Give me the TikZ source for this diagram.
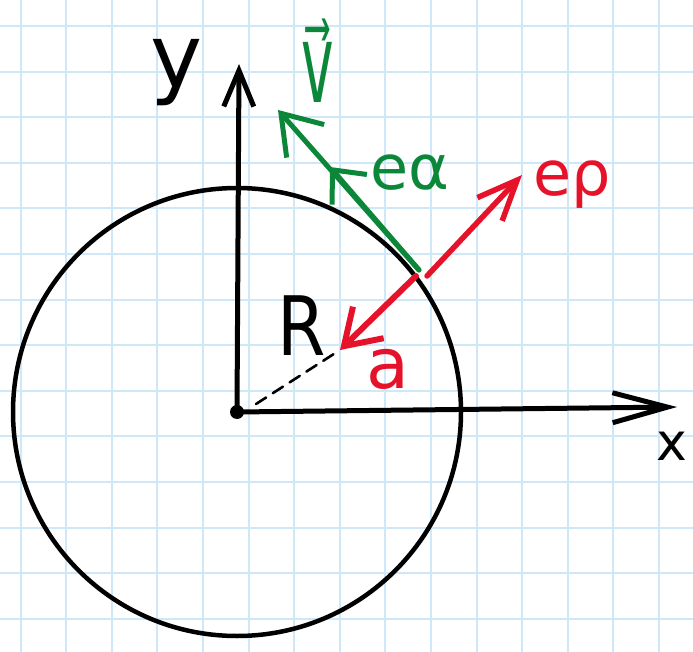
\documentclass[tikz,border=0pt]{standalone}
\usepackage{fontspec}
\setmainfont{DejaVu Sans}
\usetikzlibrary{arrows.meta}
\definecolor{gridc}{RGB}{206,232,250}
\definecolor{penred}{RGB}{229,18,42}
\definecolor{pengreen}{RGB}{12,135,58}
\begin{document}
\begin{tikzpicture}[x=1pt,y=-1pt,line cap=round,line join=round,
  ink/.style={line width=5pt},
  lab/.style={inner sep=0pt,anchor=base},
  redpen/.style={penred,line width=6pt},
  greenpen/.style={pengreen,line width=5pt}]
\useasboundingbox (0,0) rectangle (693,652);
\fill[white] (0,0) rectangle (693,652);
\clip (0,0) rectangle (693,652);
% grid
\foreach \k in {0,...,14} \draw[gridc,line width=2pt] ({20.5+45.6*\k},0) -- ({20.5+45.6*\k},652);
\foreach \k in {0,...,13} \draw[gridc,line width=2pt] (0,{26+45.6*\k}) -- (693,{26+45.6*\k});
% points
\coordinate (O) at (237,412);
\coordinate (ytip) at (239,64);
\coordinate (xtip) at (677,407);
\coordinate (P) at (416,276);
\coordinate (atip) at (340,350);
\coordinate (Rs) at (256,404);
\coordinate (rstart) at (427,276);
\coordinate (rtip) at (522,175);
\coordinate (gstart) at (419,270);
\coordinate (gtip) at (278,110);
\coordinate (gmid) at (330,167);
% circle
\draw[line width=4.5pt] (O) circle[radius=224];
% axes
\draw[ink,-{Straight Barb[length=36pt,width=30pt]}] (O) -- (ytip);
\draw[ink,-{Straight Barb[length=55pt,width=30pt]}] (O) -- (xtip);
\fill (O) circle[radius=7];
% radius
\draw[line width=2.6pt,dash pattern=on 12pt off 8pt] (Rs) -- (atip);
% red vectors
\draw[redpen,-{Straight Barb[length=34pt,width=44pt]}] (P) -- (atip);
\draw[redpen,line width=5.5pt,-{Straight Barb[length=40pt,width=34pt]}] (rstart) -- (rtip);
% green vectors
\draw[greenpen,-{Straight Barb[length=37pt,width=50pt]}] (gstart) -- (gtip);
\draw[greenpen,-{Straight Barb[length=26pt,width=46pt]}] (gstart) -- (gmid);
% labels
\node[lab,font=\fontsize{88}{88}\selectfont] (ylab) at (177,88) {y};
\node[lab,pengreen,xscale=0.5,font=\fontsize{110}{110}\selectfont] (vlab) at (318,103) {v\symbol{"20D7}};
\node[lab,pengreen,font=\fontsize{62}{62}\selectfont] (ealab) at (410,190) {eα};
\node[lab,penred,font=\fontsize{62}{62}\selectfont] (erlab) at (572,196) {eρ};
\node[lab,xscale=0.85,font=\fontsize{82}{82}\selectfont] (Rlab) at (302,355) {R};
\node[lab,penred,font=\fontsize{70}{70}\selectfont] (alab) at (388,388) {a};
\node[lab,font=\fontsize{52}{52}\selectfont] (xlab) at (672,460) {x};
\end{tikzpicture}
\end{document}
